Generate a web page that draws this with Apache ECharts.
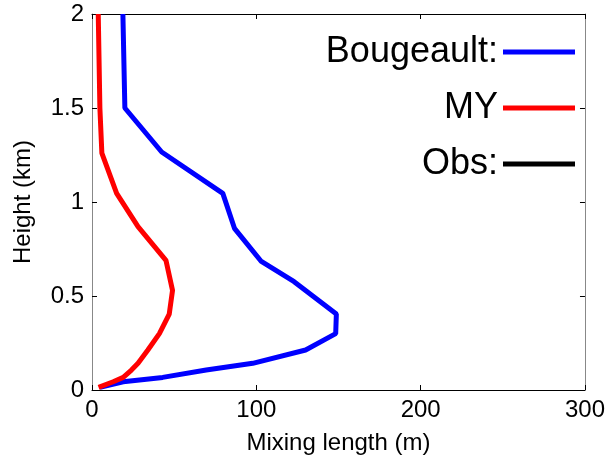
<!DOCTYPE html>
<html>
<head>
<meta charset="utf-8">
<script src="https://cdn.jsdelivr.net/npm/echarts@6/dist/echarts.min.js"></script>
<style>html,body{margin:0;padding:0;background:#fff;}#c{width:608px;height:463px;}</style>
</head>
<body>
<div id="c"></div>
<script>
// Heights (km) and mixing lengths (m)
const bougeaultHeight = [2.0, 1.5, 1.266, 1.046, 0.86, 0.686, 0.576, 0.404, 0.30, 0.213, 0.142, 0.106, 0.067, 0.044, 0.014];
const bougeaultLength = [18.8, 20, 42.4, 79.6, 86.7, 102.8, 123, 148.7, 148.3, 130, 97.8, 69.5, 43, 19, 4.8];
const myHeight = [2.0, 1.5, 1.26, 1.046, 0.869, 0.69, 0.53, 0.404, 0.30, 0.213, 0.142, 0.106, 0.067, 0.044, 0.014];
const myLength = [3.8, 4.8, 6, 15, 28, 45, 49, 47, 41, 34, 28, 24, 19, 12.9, 4];
const obsHeight = [];
const obsLength = [];
const seriesNames = ['Bougeault:', 'MY', 'Obs:'];
const xTicks = [0, 100, 200, 300];
const yTicks = [0, 0.5, 1, 1.5, 2];

const pairs = (xs, ys) => xs.map((v, i) => [v, ys[i]]);
const font = 'Liberation Sans, Arial, sans-serif';
const chart = echarts.init(document.getElementById('c'));
const legendTops = [34, 90, 146];
chart.setOption({
  animation: false,
  backgroundColor: '#fff',
  grid: {left: 92, right: 21, top: 14, bottom: 73},
  legend: seriesNames.map((n, i) => ({
    data: [n], orient: 'vertical', right: 33, top: legendTops[i], align: 'right',
    padding: 0, itemWidth: 72, itemHeight: 5, icon: 'rect',
    textStyle: {fontSize: 36, fontFamily: font, color: '#000'}
  })),
  xAxis: [{
    type: 'value', min: xTicks[0], max: xTicks[xTicks.length - 1], interval: 100,
    name: 'Mixing length (m)', nameLocation: 'middle', nameGap: 41,
    nameTextStyle: {fontSize: 24, fontFamily: font, color: '#000'},
    axisLine: {show: true, lineStyle: {color: '#000', width: 1}},
    axisTick: {show: true, inside: true, length: 5, lineStyle: {color: '#000'}},
    axisLabel: {fontSize: 24, fontFamily: font, color: '#000', margin: 8},
    splitLine: {show: false}
  }, {
    type: 'value', position: 'top', min: 0, max: 300, interval: 100,
    axisLine: {show: true, onZero: false, lineStyle: {color: '#000', width: 1}},
    axisTick: {show: true, inside: true, length: 5, lineStyle: {color: '#000'}},
    axisLabel: {show: false}, splitLine: {show: false}
  }],
  yAxis: [{
    type: 'value', min: yTicks[0], max: yTicks[yTicks.length - 1], interval: 0.5,
    name: 'Height (km)', nameLocation: 'middle', nameGap: 57,
    nameTextStyle: {fontSize: 24, fontFamily: font, color: '#000'},
    axisLine: {show: true, lineStyle: {color: '#888', width: 1}},
    axisTick: {show: true, inside: true, length: 5, lineStyle: {color: '#000'}},
    axisLabel: {fontSize: 24, fontFamily: font, color: '#000', margin: 8},
    splitLine: {show: false}
  }, {
    type: 'value', position: 'right', min: 0, max: 2, interval: 0.5,
    axisLine: {show: true, onZero: false, lineStyle: {color: '#888', width: 1}},
    axisTick: {show: true, inside: true, length: 5, lineStyle: {color: '#000'}},
    axisLabel: {show: false}, splitLine: {show: false}
  }],
  series: [
    {name: seriesNames[0], type: 'line', data: pairs(bougeaultLength, bougeaultHeight), showSymbol: false, symbol: 'none', color: '#0000ff', lineStyle: {width: 5, color: '#0000ff'}},
    {name: seriesNames[1], type: 'line', data: pairs(myLength, myHeight), showSymbol: false, symbol: 'none', color: '#ff0000', lineStyle: {width: 5, color: '#ff0000'}},
    {name: seriesNames[2], type: 'line', data: pairs(obsLength, obsHeight), showSymbol: false, symbol: 'none', color: '#000000', lineStyle: {width: 5, color: '#000000'}}
  ]
});
</script>
</body>
</html>
